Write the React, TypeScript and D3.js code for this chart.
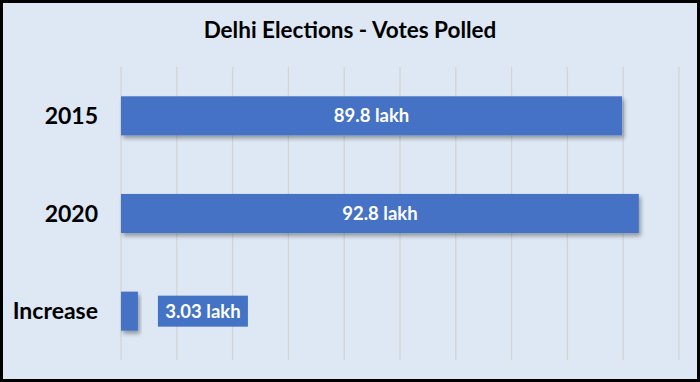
import React from "react";
import * as d3 from "d3";

const categories: string[] = ["2015", "2020", "Increase"];
const values: number[] = [89.8, 92.8, 3.03];
const valueLabels: string[] = ["89.8 lakh", "92.8 lakh", "3.03 lakh"];
const xTicks: number[] = [0, 10, 20, 30, 40, 50, 60, 70, 80, 90, 100];
const title = "Delhi Elections - Votes Polled";

const W = 700;
const H = 382;
const FONT = "Lato, 'Open Sans', sans-serif";

export default function App() {
  const x = d3.scaleLinear().domain([0, 100]).range([121, 679]);
  const y = d3
    .scaleBand<string>()
    .domain(categories)
    .range([67, 360])
    .paddingInner(0.6)
    .paddingOuter(0.3);
  const bw = y.bandwidth();

  return (
    <svg
      width={W}
      height={H}
      style={{ position: "absolute", left: 0, top: 0 }}
      fontFamily={FONT}
    >
      <defs>
        <filter id="sh" x="-10%" y="-20%" width="130%" height="160%">
          <feDropShadow dx="2" dy="3" stdDeviation="2" floodColor="#000" floodOpacity="0.35" />
        </filter>
      </defs>
      <rect x={1.5} y={1.5} width={W - 3} height={H - 3} fill="#dde8f4" stroke="#000" strokeWidth={3} />
      <text x={350} y={38} textAnchor="middle" fontSize={22.5} fontWeight="bold" fill="#000">
        {title}
      </text>
      {xTicks.map((t) => (
        <line key={t} x1={x(t)} x2={x(t)} y1={67} y2={360} stroke="#d4d4d4" strokeWidth={1.3} />
      ))}
      {categories.map((c, i) => {
        const yy = y(c)!;
        const cy = yy + bw / 2;
        const isSmall = x(values[i]) - x(0) < 100;
        return (
          <g key={c}>
            <rect
              x={x(0)}
              y={yy}
              width={x(values[i]) - x(0)}
              height={bw}
              fill="#4472c4"
              filter="url(#sh)"
            />
            <text x={98} y={cy} dy="0.36em" textAnchor="end" fontSize={23} fontWeight="bold" fill="#000">
              {c}
            </text>
            {isSmall ? (
              <g>
                <rect x={x(values[i]) + 20} y={cy - 15.5} width={90} height={31} fill="#4472c4" />
                <text
                  x={x(values[i]) + 65}
                  y={cy}
                  dy="0.36em"
                  textAnchor="middle"
                  fontSize={18.5}
                  fontWeight="bold"
                  fill="#fff"
                >
                  {valueLabels[i]}
                </text>
              </g>
            ) : (
              <text
                x={(x(0) + x(values[i])) / 2}
                y={cy}
                dy="0.36em"
                textAnchor="middle"
                fontSize={18.5}
                fontWeight="bold"
                fill="#fff"
              >
                {valueLabels[i]}
              </text>
            )}
          </g>
        );
      })}
    </svg>
  );
}
